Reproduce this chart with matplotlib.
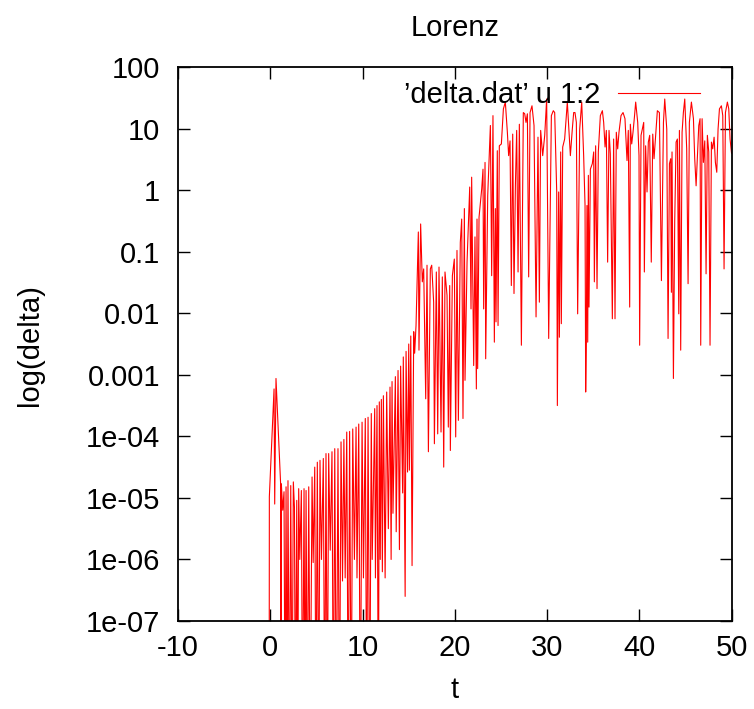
import numpy as np
import matplotlib
matplotlib.use("Agg")
import matplotlib.pyplot as plt
from matplotlib.ticker import FixedLocator, FixedFormatter, LogLocator, NullFormatter, NullLocator

plt.rcParams['font.family'] = ['Liberation Sans', 'DejaVu Sans']
plt.rcParams['axes.unicode_minus'] = False

# time values of the line vertices
t = [
    -0.12, -0.10, 0.41, 0.48, 0.62, 1.13, 1.16, 1.20, 1.35, 1.49,
    1.60, 1.71, 1.82, 1.92, 2.07, 2.22, 2.36, 2.50, 2.62, 2.72,
    2.87, 2.97, 3.08, 3.20, 3.37, 3.50, 3.66, 3.77, 3.88, 4.02,
    4.17, 4.33, 4.53, 4.65, 4.82, 4.95, 5.10, 5.25, 5.39, 5.55,
    5.75, 5.90, 6.04, 6.18, 6.33, 6.50, 6.69, 6.84, 6.99, 7.16,
    7.34, 7.50, 7.67, 7.83, 7.98, 8.12, 8.29, 8.45, 8.60, 8.77,
    8.94, 9.12, 9.30, 9.40, 9.59, 9.76, 9.95, 10.10, 10.30, 10.45,
    10.60, 10.78, 10.95, 11.05, 11.32, 11.40, 11.57, 11.72, 11.82, 11.92,
    12.04, 12.15, 12.26, 12.45, 12.62, 12.80, 12.98, 13.10, 13.20, 13.30,
    13.56, 13.65, 13.85, 14.00, 14.13, 14.35, 14.42, 14.62, 14.72, 14.88,
    15.01, 15.08, 15.23, 15.37, 15.55, 15.65, 15.80, 16.05, 16.12, 16.30,
    16.48, 16.63, 16.85, 16.99, 17.14, 17.35, 17.50, 17.71, 17.79, 18.00,
    18.15, 18.29, 18.51, 18.65, 18.80, 18.94, 19.16, 19.30, 19.45, 19.52,
    19.74, 19.95, 20.10, 20.24, 20.39, 20.60, 20.75, 20.89, 21.04, 21.11,
    21.33, 21.47, 21.62, 21.76, 21.83, 22.05, 22.19, 22.34, 22.41, 22.48,
    22.63, 22.92, 23.06, 23.13, 23.28, 23.35, 23.57, 23.86, 24.00, 24.14,
    24.29, 24.40, 24.47, 24.61, 24.69, 24.83, 25.05, 25.27, 25.48, 25.70,
    25.84, 25.99, 26.13, 26.28, 26.42, 26.57, 26.71, 26.86, 27.00, 27.22,
    27.43, 27.58, 27.72, 27.87, 28.01, 28.16, 28.37, 28.59, 28.81, 29.02,
    29.17, 29.31, 29.53, 29.75, 29.96, 30.18, 30.47, 30.68, 30.83, 31.05,
    31.12, 31.26, 31.34, 31.48, 31.55, 31.70, 31.91, 32.20, 32.53, 32.74,
    32.89, 33.03, 33.18, 33.32, 33.54, 33.76, 33.97, 34.12, 34.19, 34.26,
    34.33, 34.41, 34.48, 34.55, 34.70, 34.91, 35.06, 35.13, 35.27, 35.42,
    35.56, 35.78, 36.00, 36.14, 36.29, 36.43, 36.57, 36.72, 36.86, 37.08,
    37.22, 37.37, 37.51, 37.66, 37.80, 38.02, 38.24, 38.45, 38.67, 38.81,
    38.96, 39.03, 39.18, 39.32, 39.47, 39.61, 39.83, 39.97, 40.04, 40.19,
    40.33, 40.48, 40.55, 40.69, 40.84, 40.98, 41.13, 41.30, 41.46, 41.60,
    41.75, 41.96, 42.18, 42.40, 42.62, 42.76, 42.98, 43.12, 43.27, 43.41,
    43.48, 43.55, 43.70, 43.84, 43.99, 44.13, 44.28, 44.35, 44.49, 44.64,
    44.78, 44.93, 45.14, 45.29, 45.43, 45.65, 45.87, 46.01, 46.16, 46.30,
    46.45, 46.59, 46.66, 46.81, 46.95, 47.10, 47.24, 47.38, 47.53, 47.67,
    47.82, 47.96, 48.11, 48.25, 48.40, 48.54, 48.69, 48.90, 49.05, 49.19,
    49.34, 49.55, 49.70, 49.84, 50.00,
]

# log10(delta) at each vertex; -9 means below the bottom of the plot
log_delta = [
    -9, -4.98, -3.23, -5.10, -3.06, -4.80, -9, -4.77, -5.20, -4.90,
    -9, -4.82, -9, -4.72, -9, -4.80, -9, -4.74, -5.15, -9,
    -5.04, -9, -4.85, -6.00, -4.88, -9, -4.85, -9, -4.88, -9,
    -4.82, -9, -4.66, -6.05, -4.50, -9, -4.42, -9, -4.39, -6.00,
    -4.36, -9, -4.28, -9, -4.28, -5.85, -4.25, -9, -4.20, -9,
    -4.20, -9, -4.09, -6.35, -4.05, -6.30, -3.93, -9, -3.92, -9,
    -3.88, -6.00, -3.85, -6.30, -3.80, -9, -3.77, -6.30, -3.71, -9,
    -3.69, -9, -3.63, -6.00, -3.55, -6.30, -3.50, -9, -3.44, -6.00,
    -3.40, -6.20, -3.34, -6.30, -3.28, -5.50, -3.20, -6.00, -3.11, -5.25,
    -3.03, -5.55, -2.93, -5.84, -2.86, -4.92, -2.71, -6.60, -2.62, -4.58,
    -2.50, -4.55, -2.37, -6.10, -2.30, -2.65, -2.20, -0.68, -2.60, -0.55,
    -1.49, -1.28, -3.39, -1.22, -4.25, -1.28, -1.22, -1.82, -4.12, -1.33,
    -3.96, -1.25, -3.93, -1.41, -4.50, -1.33, -1.71, -3.85, -1.55, -4.23,
    -1.39, -1.12, -4.01, -0.98, -3.74, -0.85, -0.47, -3.71, -0.30, -3.09,
    -1.17, -0.58, 0.05, -1.93, 0.21, -2.85, -0.76, -3.23, -0.47, -2.90,
    -0.44, 0.02, 0.34, -1.93, 0.45, -2.74, -0.09, 1.05, -1.39, 1.21,
    -2.47, -0.30, -2.14, 0.64, -2.20, 0.72, 0.75, 1.32, 1.43, 0.94,
    0.56, 0.80, -1.55, 0.91, -1.68, 0.07, 0.97, -1.33, 1.07, -2.52,
    1.26, 1.24, 1.10, 1.24, -1.41, 1.26, 1.37, 1.05, -2.06, 0.86,
    -1.82, 0.97, 0.56, 0.89, 1.48, -2.41, 1.21, 1.29, 1.26, -0.03,
    -3.50, -0.03, -2.39, 0.62, -2.17, 0.70, 0.83, 1.43, 0.56, 0.99,
    1.26, 1.26, 1.10, -2.01, 0.99, 1.43, 0.56, -0.25, -3.28, -2.47,
    -0.25, -2.47, 0.24, -1.90, 0.34, 0.43, 0.62, -1.49, 0.72, -1.60,
    0.62, 1.21, 1.29, 1.10, 0.70, 0.97, -1.17, 0.97, 0.59, -2.09,
    0.83, -2.09, 0.94, 0.67, 0.94, 1.21, 1.26, 1.16, 0.48, 0.97,
    -1.90, 1.07, 0.75, 0.94, 1.18, 1.43, 1.10, 0.56, -2.52, 0.89,
    0.99, 1.10, -1.33, 0.72, -0.03, 0.78, 0.89, -1.17, 0.91, 0.51,
    0.83, 1.29, 1.26, -1.47, 1.10, 1.48, 0.99, -2.41, 0.43, 0.51,
    -1.66, 0.62, -3.06, -0.52, 0.78, 0.83, -2.01, 0.97, -2.60, 0.94,
    1.26, 1.48, 0.67, -1.52, 1.10, 1.43, 1.16, 0.51, 0.07, 0.56,
    1.05, 1.16, -2.52, 1.16, 0.45, 0.80, -1.36, 0.89, 0.62, -2.52,
    0.78, 0.67, 0.86, 0.45, 0.29, 0.99, 1.32, 1.37, 1.21, -1.28,
    1.26, 1.43, 1.32, 0.83, 0.60,
]

x_ticks = [-10, 0, 10, 20, 30, 40, 50]
x_labels = ['-10', '0', '10', '20', '30', '40', '50']
y_ticks = [1e-7, 1e-6, 1e-5, 1e-4, 1e-3, 1e-2, 1e-1, 1, 10, 100]
y_labels = ['1e-07', '1e-06', '1e-05', '1e-04', '0.001', '0.01', '0.1', '1', '10', '100']

t = np.array(t)
delta = 10.0 ** np.array(log_delta)

fs = 21

fig = plt.figure(figsize=(7.54, 7.09), dpi=100)
ax = fig.add_axes([0.2361, 0.1241, 0.7341, 0.7814])

ax.plot(t, delta, color='#ff0000', lw=0.8, label='\u2019delta.dat\u2019 u 1:2')

ax.set_yscale('log')
ax.set_xlim(-10, 50)
ax.set_ylim(1e-7, 100)

ax.xaxis.set_major_locator(FixedLocator(x_ticks))
ax.xaxis.set_major_formatter(FixedFormatter(x_labels))
ax.xaxis.set_minor_locator(NullLocator())
ax.yaxis.set_major_locator(FixedLocator(y_ticks))
ax.yaxis.set_major_formatter(FixedFormatter(y_labels))
ax.yaxis.set_minor_locator(LogLocator(base=10, subs=[2, 5, 8]))
ax.yaxis.set_minor_formatter(NullFormatter())

ax.tick_params(which='both', direction='in', top=True, right=True, width=1.0, labelsize=fs, colors='black')
ax.tick_params(which='major', length=8.6)
ax.tick_params(which='minor', length=4.3)
ax.tick_params(axis='y', pad=13)
ax.tick_params(axis='x', pad=9)
for s in ax.spines.values():
    s.set_linewidth(1.3)

ax.set_title('Lorenz', fontsize=fs, pad=22)
ax.set_xlabel('t', fontsize=fs)
ax.set_ylabel('log(delta)', fontsize=fs)
ax.xaxis.set_label_coords(0.5, -0.1245)
ax.xaxis.label.set_va('center')
ax.yaxis.set_label_coords(-0.267, 0.498)
ax.yaxis.label.set_va('center')

ax.legend(loc='center right', bbox_to_anchor=(0.943, 0.9495), frameon=False,
          markerfirst=False, handlelength=2.8, handletextpad=0.62,
          borderpad=0, borderaxespad=0, fontsize=fs)

fig.savefig('out.png', dpi=100)
